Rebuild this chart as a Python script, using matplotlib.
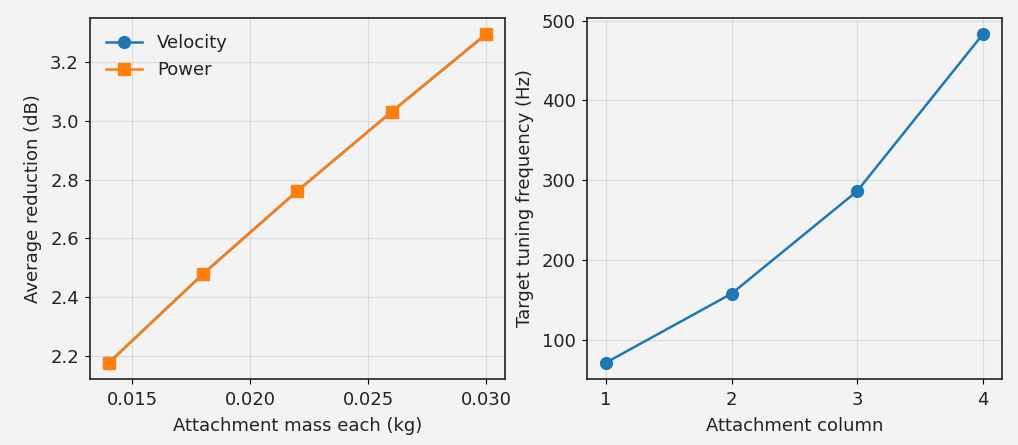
import matplotlib
matplotlib.use('Agg')
import matplotlib.pyplot as plt

# left panel: average reduction vs attachment mass
mass_kg = [0.014, 0.018, 0.022, 0.026, 0.030]
velocity_db = [2.176, 2.479, 2.762, 3.032, 3.296]
power_db = [2.176, 2.479, 2.762, 3.032, 3.296]

# right panel: tuning frequency per attachment column
columns = [1, 2, 3, 4]
target_freq_hz = [71.8, 158.2, 286.6, 482.9]

bg = '#f3f3f3'
plt.rcParams['font.family'] = 'DejaVu Sans'
plt.rcParams['font.size'] = 13
plt.rcParams['text.color'] = '#222222'
plt.rcParams['axes.labelcolor'] = '#222222'
plt.rcParams['xtick.labelcolor'] = '#222222'
plt.rcParams['ytick.labelcolor'] = '#222222'
plt.rcParams['xtick.major.pad'] = 5
plt.rcParams['ytick.major.pad'] = 4.5
plt.rcParams['axes.labelpad'] = 5.5

fig, (ax1, ax2) = plt.subplots(1, 2, figsize=(10.18, 4.45), dpi=100)
fig.patch.set_facecolor(bg)
ax1.set_position([0.0884, 0.148, 0.496 - 0.0884, 0.96 - 0.148])
ax2.set_position([0.5766, 0.148, 0.984 - 0.5766, 0.96 - 0.148])

for ax in (ax1, ax2):
    ax.set_facecolor(bg)
    ax.grid(True, color='#cccccc', alpha=0.6, linewidth=0.8)
    ax.set_axisbelow(True)
    for sp in ax.spines.values():
        sp.set_linewidth(1.2)
        sp.set_color('#222222')

ax1.plot(mass_kg, velocity_db, marker='o', color='#1f77b4', markersize=8.5, linewidth=1.8, label='Velocity')
ax1.plot(mass_kg, power_db, marker='s', color='#ff7f0e', markersize=8.5, linewidth=1.8, label='Power')
ax1.set_xlabel('Attachment mass each (kg)')
ax1.set_ylabel('Average reduction (dB)')
ax1.set_xticks([0.015, 0.020, 0.025, 0.030])
ax1.set_yticks([2.2, 2.4, 2.6, 2.8, 3.0, 3.2])
ax1.legend(loc='upper left', frameon=False)

ax2.plot(columns, target_freq_hz, marker='o', color='#1f77b4', markersize=8.5, linewidth=1.8)
ax2.set_xlabel('Attachment column')
ax2.set_ylabel('Target tuning frequency (Hz)')
ax2.set_xticks(columns)
ax2.set_yticks([100, 200, 300, 400, 500])

fig.savefig('out.png', dpi=100, facecolor=bg)
